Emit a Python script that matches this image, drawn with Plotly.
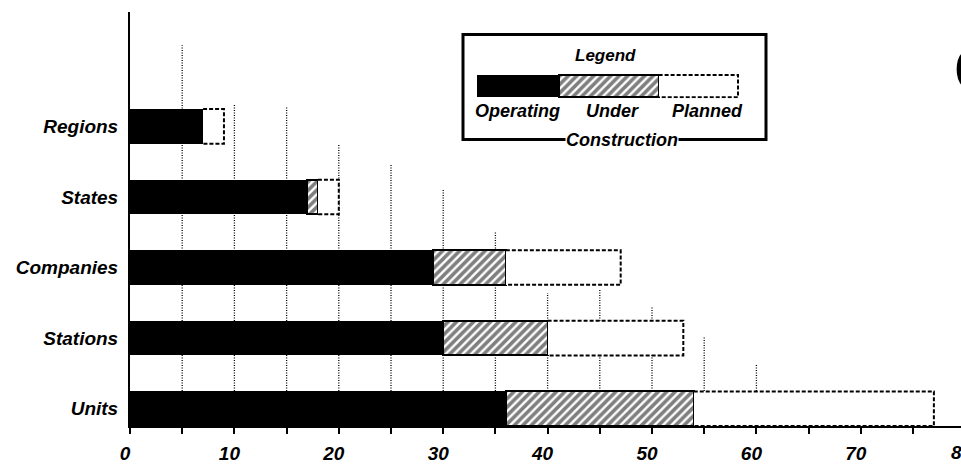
import plotly.graph_objects as go

# ---------------- data ----------------
categories = ["Units", "Stations", "Companies", "States", "Regions"]   # bottom -> top
operating = [36, 30, 29, 17, 7]
construction = [18, 10, 7, 1, 0]
planned = [23, 13, 11, 2, 2]

x_tick_vals = [0, 10, 20, 30, 40, 50, 60, 70]
x_tick_text = ["0", "10", "20", "30", "40", "50", "60", "70"]

grid_x = [5, 10, 15, 20, 25, 30, 35, 40, 45, 50, 55, 60]
grid_top = [5.15, 4.31, 4.29, 3.75, 3.46, 3.10, 2.50, 1.64, 1.68, 1.44, 1.03, 0.64]

legend_swatch = [0.83, 1.00, 0.80]   # relative widths of legend sample
legend_labels = ["Operating", "Under", "Planned"]

# ---------------- layout helpers ----------------
W, H = 961, 464
ML, MR, MT, MB = 130, 0, 12, 30
PW, PH = W - ML - MR, H - MT - MB
X_MAX = PW / 104.4 * 10
Y_RANGE = [-0.245, 5.62]
BAR_W = 0.49

def px2x(px):
    return (px - ML) / PW

def px2y(py):
    return (H - MB - py) / PH

FONT = "Liberation Sans, Arial, sans-serif"
ypos = list(range(len(categories)))

fig = go.Figure()

hatch = dict(color="white", pattern=dict(shape="/", fgcolor="black", bgcolor="white",
                                         size=6, solidity=0.6),
             line=dict(color="black", width=2))

fig.add_trace(go.Bar(y=ypos, x=operating, orientation="h", width=BAR_W,
                     marker=dict(color="black", line=dict(width=0)),
                     name="Operating", showlegend=False))
fig.add_trace(go.Bar(y=ypos, x=construction, orientation="h", width=BAR_W,
                     marker=hatch, name="Under Construction", showlegend=False))
fig.add_trace(go.Bar(y=ypos, x=planned, orientation="h", width=BAR_W,
                     marker=dict(color="white", line=dict(width=0)),
                     name="Planned", showlegend=False))

# dashed outline of the planned part
ox, oy = [], []
for i, (o, c, p) in enumerate(zip(operating, construction, planned)):
    s, e = o + c, o + c + p
    ox += [s, e, e, s, None]
    oy += [i + BAR_W / 2, i + BAR_W / 2, i - BAR_W / 2, i - BAR_W / 2, None]
fig.add_trace(go.Scatter(x=ox, y=oy, mode="lines", showlegend=False, hoverinfo="skip",
                         line=dict(color="black", width=2, dash="4px,2px")))

# legend sample bar (own small axes)
fig.add_trace(go.Bar(y=[0], x=[legend_swatch[0]], orientation="h", width=1,
                     marker=dict(color="black", line=dict(width=0)),
                     xaxis="x2", yaxis="y2", showlegend=False))
fig.add_trace(go.Bar(y=[0], x=[legend_swatch[1]], orientation="h", width=1,
                     marker=hatch, xaxis="x2", yaxis="y2", showlegend=False))
fig.add_trace(go.Bar(y=[0], x=[legend_swatch[2]], orientation="h", width=1,
                     marker=dict(color="white", line=dict(width=0)),
                     xaxis="x2", yaxis="y2", showlegend=False))
ls = legend_swatch[0] + legend_swatch[1]
le = ls + legend_swatch[2]
fig.add_trace(go.Scatter(x=[ls, le, le, ls], y=[0.5, 0.5, -0.5, -0.5], mode="lines",
                         xaxis="x2", yaxis="y2", showlegend=False, hoverinfo="skip",
                         line=dict(color="black", width=2, dash="4px,2px")))

# dotted gridlines, stepped heights
shapes = []
for gx, gt in zip(grid_x, grid_top):
    shapes.append(dict(type="line", xref="x", yref="y", x0=gx, x1=gx, y0=Y_RANGE[0], y1=gt,
                       layer="below", line=dict(color="black", width=1.3, dash="1px,1.5px")))

# legend frame
shapes.append(dict(type="rect", xref="paper", yref="paper",
                   x0=px2x(463), x1=px2x(766), y0=px2y(142), y1=px2y(35),
                   line=dict(color="black", width=3)))

annotations = []
def ann(text, px, py, size, **kw):
    d = dict(text=text, xref="paper", yref="paper", x=px2x(px), y=px2y(py),
             xanchor="center", yanchor="middle",
             showarrow=False, font=dict(family=FONT, size=size, color="black",
                                        weight="bold", style="italic"))
    d.update(kw)
    annotations.append(d)

ann("Legend", 605, 56, 17)
for lab, cx in zip(legend_labels, [517, 612, 707]):
    ann(lab, cx, 113, 18)
ann("Construction", 622, 142, 18, bgcolor="white", borderpad=0)
ann("80", 962, 461, 19)
annotations.append(dict(text="C", xref="paper", yref="paper", x=px2x(952), y=px2y(71),
                        xanchor="left", yanchor="middle", showarrow=False,
                        font=dict(family=FONT, size=64, color="black", weight="bold")))

tick_font = dict(family=FONT, size=19, color="black", weight="bold", style="italic")

fig.update_layout(
    width=W, height=H,
    margin=dict(l=ML, r=MR, t=MT, b=MB, pad=0),
    paper_bgcolor="white", plot_bgcolor="white",
    barmode="stack", bargap=0,
    shapes=shapes, annotations=annotations,
    xaxis=dict(range=[0, X_MAX], tickvals=x_tick_vals, ticktext=x_tick_text,
               showgrid=False, zeroline=False, showline=True, linecolor="black",
               linewidth=2, ticks="outside", ticklen=6, tickwidth=2, tickcolor="black",
               minor=dict(dtick=5, tick0=0, ticks="outside", ticklen=6, tickwidth=2,
                          tickcolor="black", showgrid=False),
               tickfont=tick_font, ticklabelshift=-5, ticklabelstandoff=3),
    yaxis=dict(range=Y_RANGE, tickvals=ypos, ticktext=categories,
               showgrid=False, zeroline=False, showline=True, linecolor="black",
               linewidth=2, ticks="", tickfont=dict(family=FONT, size=19, color="black",
                                                     weight="bold", style="italic"),
               ticklabelstandoff=6),
    xaxis2=dict(domain=[px2x(477), px2x(740)], range=[0, le + 0.02], anchor="y2",
                visible=False, fixedrange=True),
    yaxis2=dict(domain=[px2y(100), px2y(75)], range=[-0.55, 0.55], anchor="x2",
                visible=False, fixedrange=True),
)

fig.write_html("out.html", config={"displayModeBar": False},
               post_script="document.body.style.margin='0';document.body.style.overflow='hidden';")
